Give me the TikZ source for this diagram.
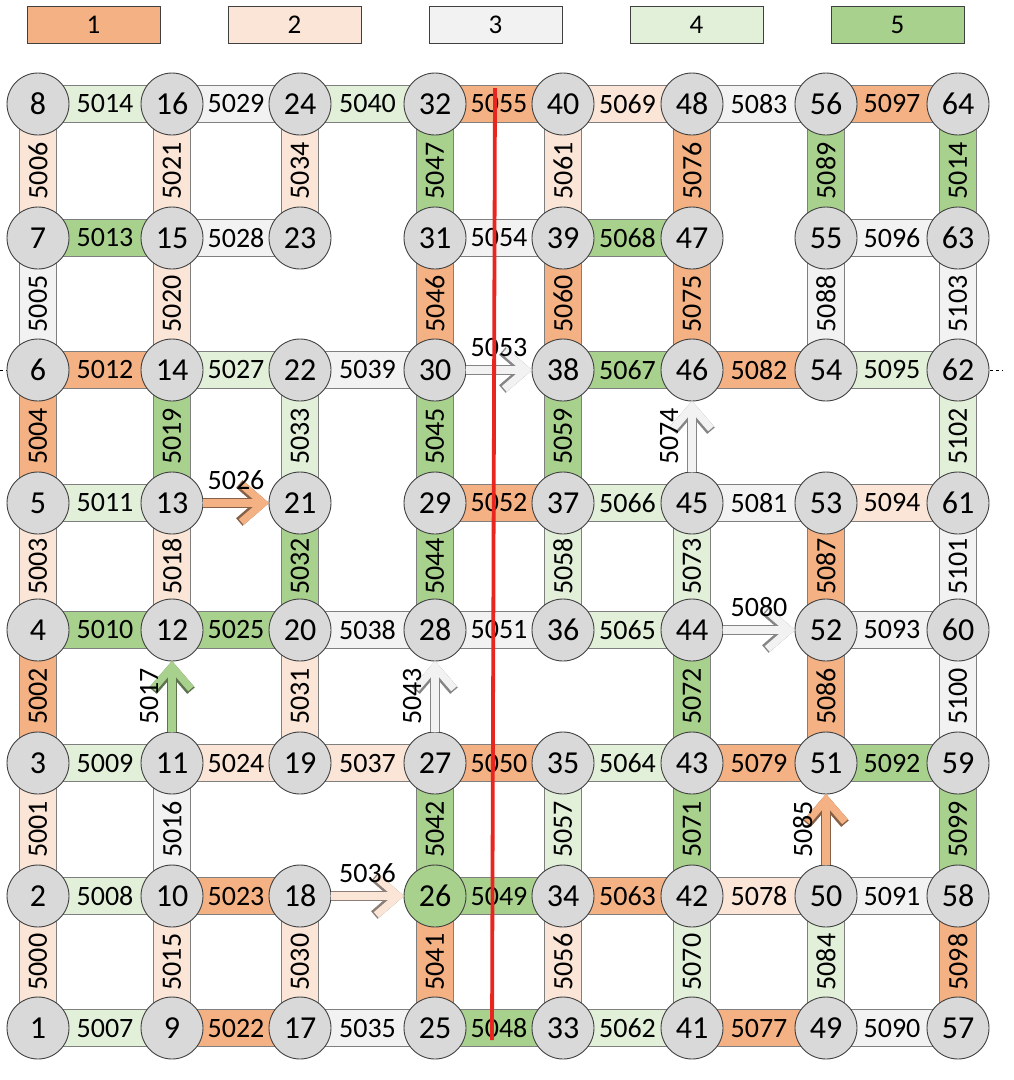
\documentclass[tikz,border=0pt]{standalone}
\usepackage{fontspec}
\setmainfont{Carlito}
\usetikzlibrary{arrows.meta,backgrounds}
\definecolor{cone}{HTML}{F4B183}
\definecolor{ctwo}{HTML}{FBE5D6}
\definecolor{cthree}{HTML}{F2F2F2}
\definecolor{cfour}{HTML}{E2F0D9}
\definecolor{cfive}{HTML}{A9D18E}
\definecolor{cnode}{HTML}{D9D9D9}
\definecolor{cedge}{HTML}{7F7F7F}
\definecolor{cring}{HTML}{404040}
\definecolor{ccut}{HTML}{E8251F}
\tikzset{
    station/.style = {circle, draw=cring, fill=#1, line width=0.9pt, minimum size=62pt, inner sep=0pt, outer sep=0pt, font=\fontsize{32}{34}\selectfont},
    link-bar/.style = {draw=cedge, line width=1.1pt, double=#1, double distance=36pt},
    link-label/.style = {font=\fontsize{28}{30}\selectfont, inner sep=0pt, sloped},
    flow-rim/.style = {draw=#1!55!black, line width=10pt, -{Straight Barb[length=22pt, width=38pt]}},
    flow-arrow/.style = {draw=#1, line width=7.5pt, -{Straight Barb[length=22pt, width=38pt]}},
    flow-label/.style = {font=\fontsize{28}{30}\selectfont, inner sep=0pt, sloped, above=10pt},
    legend-box/.style = {draw=cring, fill=#1, line width=0.9pt, minimum width=133pt, minimum height=37pt, inner sep=0pt, font=\fontsize{27}{29}\selectfont},
    cut-line/.style = {draw=ccut, line width=3.8pt},
    row-mark/.style = {draw=black, line width=0.6pt, dash pattern=on 3pt off 3pt},
}
\begin{document}
\begin{tikzpicture}[x=1pt, y=-1pt]
\useasboundingbox (0,0) rectangle (1014,1080);

\foreach \col [count=\i] in {cone,ctwo,cthree,cfour,cfive}
    \node[legend-box=\col] (key\i) at ({93.5+201*(\i-1)},24.5) {\i};

\foreach \cx [count=\c] in {38,172,300,435,563,692,826,958} {
    \foreach \ry [count=\r] in {1028,896,763,630,503,370,238,104} {
        \pgfmathtruncatemacro\n{(\c-1)*8+\r}
        \ifnum\n=26 \def\nodecol{cfive}\else\def\nodecol{cnode}\fi
        \node[station=\nodecol] (n\n) at (\cx,\ry) {\n};
    }
}

\coordinate (markW) at (0,370);
\coordinate (markE) at (1003,370);

\begin{scope}[on background layer]
\draw[row-mark] (markW) -- (markE);
\foreach \p/\q/\col/\lab in {
    1/2/ctwo/5000, 2/3/ctwo/5001, 3/4/cone/5002, 4/5/ctwo/5003, 5/6/cone/5004, 6/7/cthree/5005, 7/8/ctwo/5006,
    1/9/cfour/5007, 2/10/cfour/5008, 3/11/cfour/5009, 4/12/cfive/5010, 5/13/cfour/5011, 6/14/cone/5012, 7/15/cfive/5013, 8/16/cfour/5014,
    9/10/ctwo/5015, 10/11/cthree/5016, 12/13/ctwo/5018, 13/14/cfive/5019, 14/15/ctwo/5020, 15/16/ctwo/5021,
    9/17/cone/5022, 10/18/cone/5023, 11/19/ctwo/5024, 12/20/cfive/5025, 14/22/cfour/5027, 15/23/cthree/5028, 16/24/cthree/5029,
    17/18/ctwo/5030, 19/20/ctwo/5031, 20/21/cfive/5032, 21/22/cfour/5033, 23/24/ctwo/5034,
    17/25/cthree/5035, 19/27/ctwo/5037, 20/28/cthree/5038, 22/30/cthree/5039, 24/32/cfour/5040,
    25/26/cone/5041, 26/27/cfive/5042, 28/29/cfive/5044, 29/30/cfive/5045, 30/31/cone/5046, 31/32/cfive/5047,
    25/33/cfive/5048, 26/34/cfive/5049, 27/35/cone/5050, 28/36/cthree/5051, 29/37/cone/5052, 31/39/cthree/5054, 32/40/cone/5055,
    33/34/ctwo/5056, 34/35/cfour/5057, 36/37/cfour/5058, 37/38/cfive/5059, 38/39/cone/5060, 39/40/ctwo/5061,
    33/41/cfour/5062, 34/42/cone/5063, 35/43/cfour/5064, 36/44/cfour/5065, 37/45/cfour/5066, 38/46/cfive/5067, 39/47/cfive/5068, 40/48/ctwo/5069,
    41/42/cfour/5070, 42/43/cfive/5071, 43/44/cfive/5072, 44/45/cfour/5073, 46/47/cone/5075, 47/48/cone/5076,
    41/49/cone/5077, 42/50/ctwo/5078, 43/51/cone/5079, 45/53/cthree/5081, 46/54/cone/5082, 48/56/cthree/5083,
    49/50/cfour/5084, 51/52/cone/5086, 52/53/cone/5087, 54/55/cthree/5088, 55/56/cfive/5089,
    49/57/cthree/5090, 50/58/cthree/5091, 51/59/cfive/5092, 52/60/cthree/5093, 53/61/ctwo/5094, 54/62/cfour/5095, 55/63/cthree/5096, 56/64/cone/5097,
    57/58/cone/5098, 58/59/cfive/5099, 59/60/cthree/5100, 60/61/cthree/5101, 61/62/cfour/5102, 62/63/cthree/5103, 63/64/cfive/5014}
    \draw[link-bar=\col] (n\p.center) -- node[link-label] {\lab} (n\q.center);
\end{scope}

\foreach \p/\q/\col/\lab in {11/12/cfive/5017, 13/21/cone/5026, 18/26/ctwo/5036, 27/28/cthree/5043,
    30/38/cthree/5053, 45/46/cthree/5074, 44/52/cthree/5080, 50/51/cone/5085} {
    \draw[flow-rim=\col] (n\p) -- (n\q);
    \draw[flow-arrow=\col] (n\p) -- node[flow-label] {\lab} (n\q);
}

\coordinate (cutTop) at (495,88);
\coordinate (cutBot) at (492,1040);
\draw[cut-line] (cutTop) -- (cutBot);
\end{tikzpicture}
\end{document}
